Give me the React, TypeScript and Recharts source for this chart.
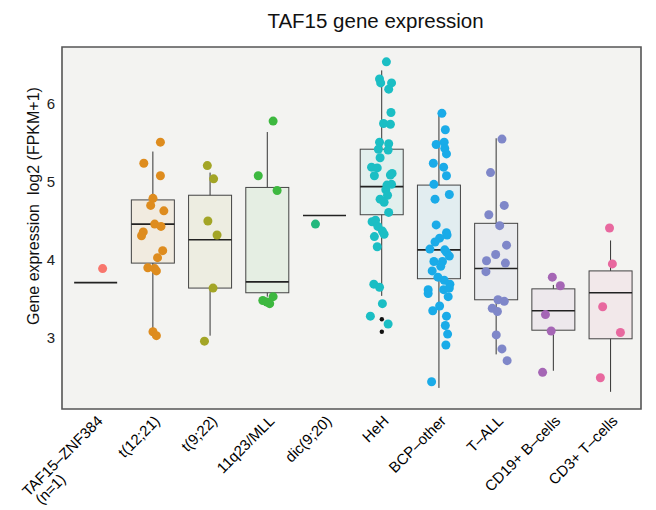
import React from "react";
import {
  ComposedChart,
  Bar,
  Scatter,
  XAxis,
  YAxis,
  ReferenceArea,
} from "recharts";

document.body.style.margin = "0";

// groups along the x axis
const categories = [
  "TAF15–ZNF384\n(n=1)",
  "t(12;21)",
  "t(9;22)",
  "11q23/MLL",
  "dic(9;20)",
  "HeH",
  "BCP–other",
  "T–ALL",
  "CD19+ B–cells",
  "CD3+ T–cells",
];

const colors = [
  "#F8766D",
  "#DE8C1E",
  "#A3A526",
  "#3DB83F",
  "#22B87D",
  "#1BBEC4",
  "#1AABE8",
  "#7F87C9",
  "#A566B5",
  "#E8689F",
];

// box statistics, log2(FPKM+1)
const whiskerLow = [3.71, 3.07, 3.03, 3.53, 4.57, 3.54, 2.36, 2.79, 2.58, 2.31];
const q1 = [3.71, 3.96, 3.64, 3.58, 4.57, 4.58, 3.76, 3.49, 3.1, 2.99];
const median = [3.71, 4.46, 4.26, 3.72, 4.57, 4.94, 4.13, 3.89, 3.35, 3.58];
const q3 = [3.71, 4.77, 4.83, 4.93, 4.57, 5.42, 4.96, 4.47, 3.63, 3.86];
const whiskerHigh = [3.71, 5.39, 5.12, 5.64, 4.57, 6.43, 5.86, 5.56, 3.68, 4.25];

// samples as [jitter, value]
const taf15Znf384 = [[0.12, 3.89]];
const t1221 = [
  [0.13, 5.51], [-0.16, 5.24], [0.13, 5.08], [0, 4.79], [-0.04, 4.7], [0.19, 4.63],
  [0.03, 4.46], [0.14, 4.43], [-0.17, 4.36], [-0.2, 4.31], [0.17, 4.12], [0.08, 4.03],
  [-0.09, 3.9], [0.03, 3.89], [0.06, 3.86], [0, 3.08], [0.06, 3.03],
];
const t922 = [[-0.05, 5.21], [0.06, 5.04], [-0.04, 4.5], [0.12, 4.32], [0.05, 3.64], [-0.1, 2.96]];
const mll = [[0.1, 5.78], [-0.16, 5.08], [0.17, 4.89], [-0.08, 3.48], [0.04, 3.44], [0.1, 3.53], [-0.01, 3.46]];
const dic920 = [[-0.16, 4.46]];
const heh = [
  [0.08, 6.54], [-0.04, 6.32], [-0.02, 6.27], [0.17, 6.27], [0.12, 6.19], [0.16, 5.89],
  [0.03, 5.75], [0.15, 5.74], [-0.04, 5.51], [0.12, 5.49], [-0.06, 5.42], [0.11, 5.41],
  [-0.03, 5.31], [-0.18, 5.19], [-0.08, 5.18], [-0.13, 5.08], [0.18, 5.11], [0.15, 5.09],
  [0.09, 4.96], [0.17, 4.97], [0.07, 4.9], [0.1, 4.83], [-0.03, 4.78], [0.04, 4.74],
  [0.12, 4.61], [-0.17, 4.49], [-0.11, 4.51], [-0.07, 4.43], [0.01, 4.37], [0.04, 4.33],
  [-0.13, 4.3], [-0.08, 4.17], [-0.14, 3.69], [-0.04, 3.65], [0.01, 3.44], [-0.2, 3.28],
  [0.11, 3.18],
];
const bcpOther = [
  [0.05, 5.88], [0.11, 5.67], [-0.05, 5.48], [0.09, 5.51], [0.1, 5.43], [0.13, 5.36],
  [-0.1, 5.24], [0.08, 5.19], [0.13, 5.08], [-0.09, 4.97], [0.18, 4.84], [-0.07, 4.78],
  [0.13, 4.35], [0.14, 4.32], [0.01, 4.28], [-0.07, 4.23], [-0.16, 4.14], [0.1, 4.13],
  [0.13, 4.1], [-0.09, 3.98], [0.06, 3.98], [0.03, 3.92], [0.09, 3.74], [0.19, 3.69],
  [0.08, 3.62], [0.18, 3.64], [0.16, 3.53], [-0.19, 3.62], [-0.19, 3.57], [0.01, 3.41],
  [-0.11, 3.35], [0.13, 3.28], [0.11, 3.16], [0.12, 2.91], [-0.13, 2.44], [-0.05, 4.45],
  [0.18, 4.05], [-0.12, 3.86], [0.15, 3.05], [-0.02, 3.78],
];
const tAll = [
  [0.1, 5.55], [-0.1, 5.12], [0.14, 4.7], [-0.13, 4.58], [0.06, 4.44], [0.18, 4.19],
  [-0.01, 4.07], [-0.17, 3.99], [0.16, 3.96], [-0.18, 3.85], [0.03, 3.49], [0.14, 3.47],
  [-0.07, 3.38], [0.02, 3.34], [0, 3.04], [0.1, 2.86], [0.19, 2.71],
];
const cd19B = [[-0.02, 3.78], [0.12, 3.67], [-0.14, 3.3], [-0.04, 3.09], [-0.19, 2.56]];
const cd3T = [[-0.02, 4.41], [0.03, 3.95], [-0.14, 3.4], [0.17, 3.07], [-0.18, 2.49]];
const hehOutliers = [3.24, 3.08];

const groups = [taf15Znf384, t1221, t922, mll, dic920, heh, bcpOther, tAll, cd19B, cd3T];

const yTicks = [3, 4, 5, 6];
const xTicks = categories.map((_, i) => i);
const xDomain = [-0.59, 9.53];
const yDomain = [2.09, 6.73];

const boxData = categories.map((name, i) => ({
  x: i,
  name,
  range: [whiskerLow[i], whiskerHigh[i]],
  lo: whiskerLow[i],
  q1: q1[i],
  med: median[i],
  q3: q3[i],
  hi: whiskerHigh[i],
  color: colors[i],
}));

// whisker + box + median, placed inside the bar's [low, high] rectangle
const BoxShape = (props: any) => {
  const { x, y, width, height, payload } = props;
  const { lo, hi } = payload;
  if (!(hi > lo) || !height) {
    return (
      <line x1={x} x2={x + width} y1={y} y2={y} stroke="#222" strokeWidth={1.6} />
    );
  }
  const py = (v: number) => y + ((hi - v) / (hi - lo)) * height;
  const cx = x + width / 2;
  return (
    <g>
      <line x1={cx} x2={cx} y1={py(hi)} y2={py(lo)} stroke="#333" strokeWidth={1} />
      <rect x={x} y={py(payload.q3)} width={width} height={py(payload.q1) - py(payload.q3)} fill="#F3F3F1" />
      <rect
        x={x}
        y={py(payload.q3)}
        width={width}
        height={py(payload.q1) - py(payload.q3)}
        fill={payload.color}
        fillOpacity={0.08}
        stroke="#444"
        strokeWidth={1}
      />
      <line x1={x} x2={x + width} y1={py(payload.med)} y2={py(payload.med)} stroke="#222" strokeWidth={1.6} />
    </g>
  );
};

const XTick = (props: any) => {
  const { x, y, payload } = props;
  const lines = categories[payload.value].split("\n");
  return (
    <g transform={`translate(${x},${y}) rotate(-45)`}>
      <text x={0} y={0} textAnchor="end" dominantBaseline="hanging" fontSize={15} fill="#000">
        {lines[0]}
      </text>
      {lines[1] && (
        <text x={-103} y={15} textAnchor="start" dominantBaseline="hanging" fontSize={15} fill="#000">
          {lines[1]}
        </text>
      )}
    </g>
  );
};

const font = "'Liberation Sans', Arial, sans-serif";

export default function App() {
  return (
    <div style={{ position: "relative", width: 656, height: 510, fontFamily: font }}>
      <div
        style={{
          position: "absolute",
          left: 0,
          width: 751,
          top: 9,
          textAlign: "center",
          fontSize: 20.5,
          color: "#111",
        }}
      >
        TAF15 gene expression
      </div>
      <div
        style={{
          position: "absolute",
          left: 34,
          top: 206,
          transform: "translate(-50%, -50%) rotate(-90deg)",
          whiteSpace: "pre",
          fontSize: 16,
          color: "#111",
        }}
      >
        {"Gene expression  log2 (FPKM+1)"}
      </div>
      <ComposedChart
        width={656}
        height={510}
        data={boxData}
        margin={{ top: 47, right: 15, bottom: 71, left: 22 }}
        style={{ fontFamily: font }}
      >
        <XAxis
          dataKey="x"
          type="number"
          domain={xDomain}
          ticks={xTicks}
          interval={0}
          allowDataOverflow
          axisLine={false}
          tickLine={false}
          tickSize={0}
          tickMargin={5}
          height={30}
          tick={<XTick />}
        />
        <XAxis xAxisId="box" dataKey="x" type="number" domain={xDomain} allowDataOverflow hide height={0} />
        <YAxis
          dataKey="y"
          type="number"
          domain={yDomain}
          ticks={yTicks}
          allowDataOverflow
          axisLine={false}
          tickLine={false}
          tickMargin={1}
          width={40}
          tick={{ fontSize: 15, fill: "#222" }}
        />
        <ReferenceArea
          x1={xDomain[0]}
          x2={xDomain[1]}
          y1={yDomain[0]}
          y2={yDomain[1]}
          fill="#F3F3F1"
          fillOpacity={1}
          stroke="#555"
          strokeWidth={1.6}
          ifOverflow="visible"
        />
        <Bar xAxisId="box" dataKey="range" barSize={43} shape={<BoxShape />} isAnimationActive={false} />
        {groups.map((pts, i) => (
          <Scatter
            key={categories[i]}
            data={pts.map(([j, v]) => ({ x: i + j, y: v }))}
            dataKey="y"
            fill={colors[i]}
            shape={(p: any) => <circle cx={p.cx} cy={p.cy} r={4.5} fill={colors[i]} />}
            isAnimationActive={false}
          />
        ))}
        <Scatter
          data={hehOutliers.map((v) => ({ x: 5, y: v }))}
          dataKey="y"
          fill="#111"
          shape={(p: any) => <circle cx={p.cx} cy={p.cy} r={2.2} fill="#111" />}
          isAnimationActive={false}
        />
      </ComposedChart>
    </div>
  );
}
